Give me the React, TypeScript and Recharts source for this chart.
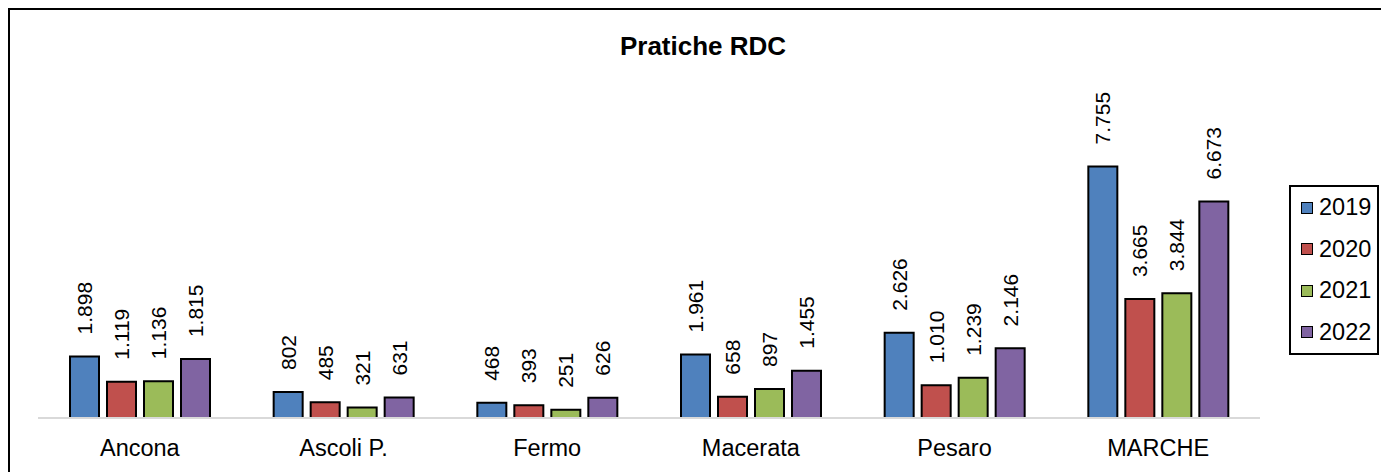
import React from "react";
import { BarChart, Bar, XAxis, YAxis, Legend, LabelList } from "recharts";

const provinces = ["Ancona", "Ascoli P.", "Fermo", "Macerata", "Pesaro", "MARCHE"];
const years = ["2019", "2020", "2021", "2022"];
const colors = ["#4F81BD", "#C0504D", "#9BBB59", "#8064A2"];

const values2019 = [1898, 802, 468, 1961, 2626, 7755];
const values2020 = [1119, 485, 393, 658, 1010, 3665];
const values2021 = [1136, 321, 251, 897, 1239, 3844];
const values2022 = [1815, 631, 626, 1455, 2146, 6673];

const data = provinces.map((name, i) => ({
  name,
  "2019": values2019[i],
  "2020": values2020[i],
  "2021": values2021[i],
  "2022": values2022[i],
}));

const FONT = "'Liberation Sans', Arial, sans-serif";

// 1898 -> "1.898"
const fmt = (v: number) => String(v).replace(/\B(?=(\d{3})+(?!\d))/g, ".");

const ValueLabel = (props: any) => {
  const { x, y, width, value } = props;
  const cx = x + width / 2;
  const ty = y - 22;
  return (
    <text
      x={cx}
      y={ty}
      transform={`rotate(-90, ${cx}, ${ty})`}
      textAnchor="start"
      dominantBaseline="central"
      fontFamily={FONT}
      fontSize={21}
      fill="#000"
    >
      {fmt(value)}
    </text>
  );
};

const CategoryTick = (props: any) => {
  const { x, y, payload } = props;
  return (
    <text x={x} y={y + 38} textAnchor="middle" fontFamily={FONT} fontSize={23.5} fill="#000">
      {payload.value}
    </text>
  );
};

const LegendBox = () => (
  <div
    style={{
      boxSizing: "border-box",
      width: 90,
      height: 170,
      border: "2px solid #000",
      paddingLeft: 10,
      fontFamily: FONT,
      fontSize: 23.5,
      color: "#000",
    }}
  >
    {years.map((yr, i) => (
      <div key={yr} style={{ display: "flex", alignItems: "center", height: 41.5 }}>
        <span
          style={{
            boxSizing: "border-box",
            display: "inline-block",
            width: 12,
            height: 12,
            background: colors[i],
            border: "1px solid #000",
            marginRight: 6,
          }}
        />
        <span>{yr}</span>
      </div>
    ))}
  </div>
);

export default function App() {
  return (
    <div
      style={{
        position: "fixed",
        left: 8,
        top: 8,
        width: 1390,
        height: 480,
        boxSizing: "border-box",
        border: "2px solid #000",
        background: "#fff",
      }}
    >
      <div
        style={{
          position: "absolute",
          top: 23,
          left: 0,
          width: "100%",
          textAlign: "center",
          fontFamily: FONT,
          fontWeight: "bold",
          fontSize: 26,
          lineHeight: "26px",
        }}
      >
        Pratiche RDC
      </div>
      <BarChart
        width={1386}
        height={462}
        data={data}
        margin={{ top: 116, right: 136, bottom: 24, left: 28 }}
        barSize={29}
        barGap={8}
      >
        <XAxis
          dataKey="name"
          axisLine={{ stroke: "#d9d9d9", strokeWidth: 2 }}
          tickLine={false}
          tickSize={0}
          tickMargin={0}
          height={30}
          tick={<CategoryTick />}
          interval={0}
        />
        <YAxis hide domain={[0, 9000]} />
        <Legend
          layout="horizontal"
          align="center"
          verticalAlign="middle"
          content={<LegendBox />}
          wrapperStyle={{ left: 1279, top: 175, width: 90, height: 170 }}
        />
        {years.map((yr, i) => (
          <Bar
            key={yr}
            dataKey={yr}
            fill={colors[i]}
            stroke="#000"
            strokeWidth={2}
            isAnimationActive={false}
          >
            <LabelList dataKey={yr} content={<ValueLabel />} />
          </Bar>
        ))}
      </BarChart>
    </div>
  );
}
